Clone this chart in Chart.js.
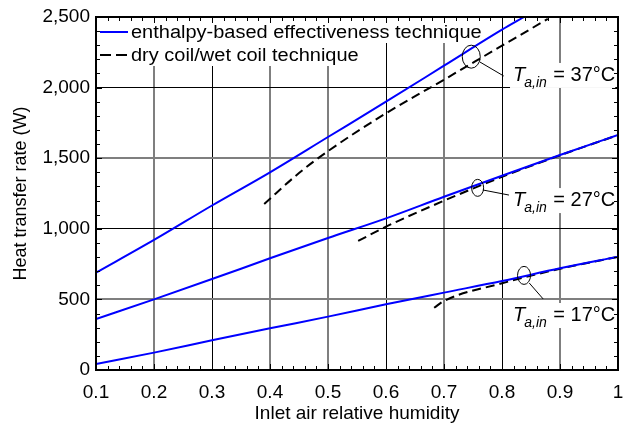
<!DOCTYPE html>
<html>
<head>
<meta charset="utf-8">
<script src="https://cdn.jsdelivr.net/npm/chart.js@4.4.1/dist/chart.umd.min.js"></script>
<style>
  html, body { margin: 0; padding: 0; background: #fff; }
</style>
</head>
<body>
<canvas id="heatChart" width="623" height="427"></canvas>
<script>
const FONT = '"Liberation Sans", Arial, sans-serif';

// enthalpy-based effectiveness technique (solid blue)
const rhBlue = [0.1, 0.2, 0.3, 0.4, 0.5, 0.6, 0.7, 0.8, 0.9, 1.0];
const rhBlue37 = [0.1, 0.2, 0.3, 0.4, 0.5, 0.6, 0.7, 0.8, 0.838];
const qBlue37 = [689, 921, 1165, 1400, 1650, 1900, 2155, 2410, 2500];
const qBlue27 = [361, 500, 644, 791, 935, 1074, 1227, 1376, 1523, 1664];
const qBlue17 = [42, 123, 210, 295, 378, 465, 548, 630, 720, 802];

// dry coil/wet coil technique (dashed black)
const rhDry37 = [0.39, 0.45, 0.5, 0.6, 0.7, 0.8, 0.879];
const qDry37 = [1176, 1395, 1550, 1818, 2056, 2297, 2486];
const rhDry27 = [0.552, 0.6, 0.7, 0.8, 0.9, 1.0];
const qDry27 = [914, 1015, 1199, 1368, 1520, 1664];
const rhDry17 = [0.683, 0.7, 0.8, 0.9, 1.0];
const qDry17 = [441, 489, 614, 717, 802];

const legendLabels = ['enthalpy-based effectiveness technique', 'dry coil/wet coil technique'];
const inletTemps = ['37°C', '27°C', '17°C'];

// gridlines that the original renders as wide grey lines
const greyX = [2, 4, 5, 7, 9];
const greyY = [500, 1500];

const toPoints = (xs, ys) => xs.map((x, i) => ({ x: x, y: ys[i] }));

function blueSet(label, xs, ys) {
  return { label, data: toPoints(xs, ys), borderColor: '#0000ff', borderWidth: 2, pointRadius: 0, cubicInterpolationMode: 'monotone', fill: false };
}
function dashSet(label, xs, ys) {
  return { label, data: toPoints(xs, ys), borderColor: '#000', borderWidth: 2, borderDash: [9, 5], pointRadius: 0, cubicInterpolationMode: 'monotone', fill: false };
}

// annotation placement: ellipse centre, leader line, label (data units)
const notes = [
  { temp: inletTemps[0], ex: 0.747, ey: 2219, rx: 9, ry: 11.5, l1: [0.762, 2181], l2: [0.803, 2082], tx: 0.819, ty: 2047 },
  { temp: inletTemps[1], ex: 0.758, ey: 1290, rx: 6, ry: 8.5, l1: [0.767, 1275], l2: [0.812, 1239], tx: 0.819, ty: 1161 },
  { temp: inletTemps[2], ex: 0.838, ey: 670, rx: 6.5, ry: 9, l1: [0.847, 616], l2: [0.871, 503], tx: 0.819, ty: 347 }
];

function measureTemp(ctx, temp) {
  ctx.font = 'italic 20px ' + FONT;
  const wT = ctx.measureText('T').width;
  ctx.font = 'italic 14px ' + FONT;
  const wSub = ctx.measureText('a,in').width;
  ctx.font = '20px ' + FONT;
  const wRest = ctx.measureText(' = ' + temp).width;
  return { wT, wSub, wRest };
}

const extras = {
  id: 'extras',
  beforeDatasetsDraw(chart) {
    const ctx = chart.ctx;
    const { left } = chart.chartArea;
    const stretch = 1.11;
    ctx.save();
    ctx.font = '18px ' + FONT;
    const rows = [
      { y: 32, color: '#0000ff', dash: [] },
      { y: 55, color: '#000', dash: [11, 5] }
    ];
    rows.forEach((r, i) => {
      const w = ctx.measureText(legendLabels[i]).width * stretch;
      ctx.fillStyle = '#fff';
      ctx.fillRect(left + 1, r.y - 14, 131 - left + w + 6, 25);
    });
    rows.forEach((r, i) => {
      ctx.strokeStyle = r.color;
      ctx.lineWidth = 2;
      ctx.setLineDash(r.dash);
      ctx.beginPath();
      ctx.moveTo(100, r.y);
      ctx.lineTo(128, r.y);
      ctx.stroke();
      ctx.setLineDash([]);
      ctx.fillStyle = '#000';
      ctx.textBaseline = 'middle';
      ctx.textAlign = 'left';
      ctx.save();
      ctx.translate(131, r.y + 1);
      ctx.scale(stretch, 1);
      ctx.fillText(legendLabels[i], 0, 0);
      ctx.restore();
    });
    ctx.restore();
  },
  afterDatasetsDraw(chart) {
    const ctx = chart.ctx;
    const xs = chart.scales.x, ys = chart.scales.y;
    const { left, right, top, bottom } = chart.chartArea;
    ctx.save();

    notes.forEach(n => {
      const cx = xs.getPixelForValue(n.ex), cy = ys.getPixelForValue(n.ey);
      ctx.strokeStyle = '#000';
      ctx.lineWidth = 1;
      ctx.beginPath();
      ctx.ellipse(cx, cy, n.rx, n.ry, 0, 0, Math.PI * 2);
      ctx.stroke();
      ctx.beginPath();
      ctx.moveTo(xs.getPixelForValue(n.l1[0]), ys.getPixelForValue(n.l1[1]));
      ctx.lineTo(xs.getPixelForValue(n.l2[0]), ys.getPixelForValue(n.l2[1]));
      ctx.stroke();

      const tx = xs.getPixelForValue(n.tx), ty = ys.getPixelForValue(n.ty);
      const m = measureTemp(ctx, n.temp);
      ctx.fillStyle = '#fff';
      ctx.fillRect(tx - 3, ty - 18, m.wT + m.wSub + m.wRest + 3, 25);
      ctx.fillStyle = '#000';
      ctx.textBaseline = 'alphabetic';
      ctx.textAlign = 'left';
      ctx.font = 'italic 20px ' + FONT;
      ctx.fillText('T', tx, ty);
      ctx.font = 'italic 14px ' + FONT;
      ctx.fillText('a,in', tx + m.wT - 1, ty + 6);
      ctx.font = '20px ' + FONT;
      ctx.fillText(' = ' + n.temp, tx + m.wT + m.wSub, ty);
    });

    // inward ticks on all four sides
    ctx.strokeStyle = '#000';
    ctx.lineWidth = 1;
    ctx.beginPath();
    for (let i = 0; i <= 45; i++) {
      const px = Math.round(xs.getPixelForValue(0.1 + i * 0.02)) + 0.5;
      const len = i % 5 === 0 ? 6 : 4;
      ctx.moveTo(px, bottom); ctx.lineTo(px, bottom - len);
      ctx.moveTo(px, top); ctx.lineTo(px, top + len);
    }
    for (let i = 0; i <= 25; i++) {
      const py = Math.round(ys.getPixelForValue(i * 100)) + 0.5;
      const len = i % 5 === 0 ? 6 : 4;
      ctx.moveTo(left, py); ctx.lineTo(left + len, py);
      ctx.moveTo(right, py); ctx.lineTo(right - len, py);
    }
    ctx.stroke();

    ctx.lineWidth = 2;
    ctx.strokeRect(left, top, right - left, bottom - top);
    ctx.restore();
  }
};

new Chart(document.getElementById('heatChart'), {
  type: 'line',
  data: {
    datasets: [
      blueSet(legendLabels[0], rhBlue37, qBlue37),
      blueSet('', rhBlue, qBlue27),
      blueSet('', rhBlue, qBlue17),
      dashSet(legendLabels[1], rhDry37, qDry37),
      dashSet('', rhDry27, qDry27),
      dashSet('', rhDry17, qDry17)
    ]
  },
  options: {
    responsive: false,
    animation: false,
    layout: { padding: { left: 0, right: 5, top: 17, bottom: 0 } },
    plugins: { legend: { display: false }, tooltip: { enabled: false } },
    scales: {
      x: {
        type: 'linear',
        min: 0.1,
        max: 1,
        ticks: {
          stepSize: 0.1,
          padding: 11,
          color: '#000',
          font: { family: FONT, size: 19 },
          callback: v => String(Number(v.toFixed(1)))
        },
        grid: {
          drawTicks: false,
          color: c => greyX.includes(Math.round(c.tick.value * 10)) ? '#7f7f7f' : '#000',
          lineWidth: c => greyX.includes(Math.round(c.tick.value * 10)) ? 2 : 1
        },
        border: { display: false },
        title: { display: true, text: 'Inlet air relative humidity', color: '#000', font: { family: FONT, size: 19 }, padding: { top: 0, bottom: 2 } },
        afterFit: s => { s.height = 57; s.paddingLeft = 0; s.paddingRight = 0; }
      },
      y: {
        min: 0,
        max: 2500,
        ticks: {
          stepSize: 500,
          padding: 6,
          color: '#000',
          font: { family: FONT, size: 19 },
          callback: v => v.toLocaleString('en-US')
        },
        grid: {
          drawTicks: false,
          color: c => greyY.includes(c.tick.value) ? '#7f7f7f' : '#000',
          lineWidth: c => greyY.includes(c.tick.value) ? 2 : 1
        },
        border: { display: false },
        title: { display: true, text: 'Heat transfer rate (W)', color: '#000', font: { family: FONT, size: 18 }, padding: { top: 10, bottom: 0 } },
        afterFit: s => { s.width = 96; s.paddingTop = 0; s.paddingBottom = 0; }
      }
    }
  },
  plugins: [extras]
});
</script>
</body>
</html>
